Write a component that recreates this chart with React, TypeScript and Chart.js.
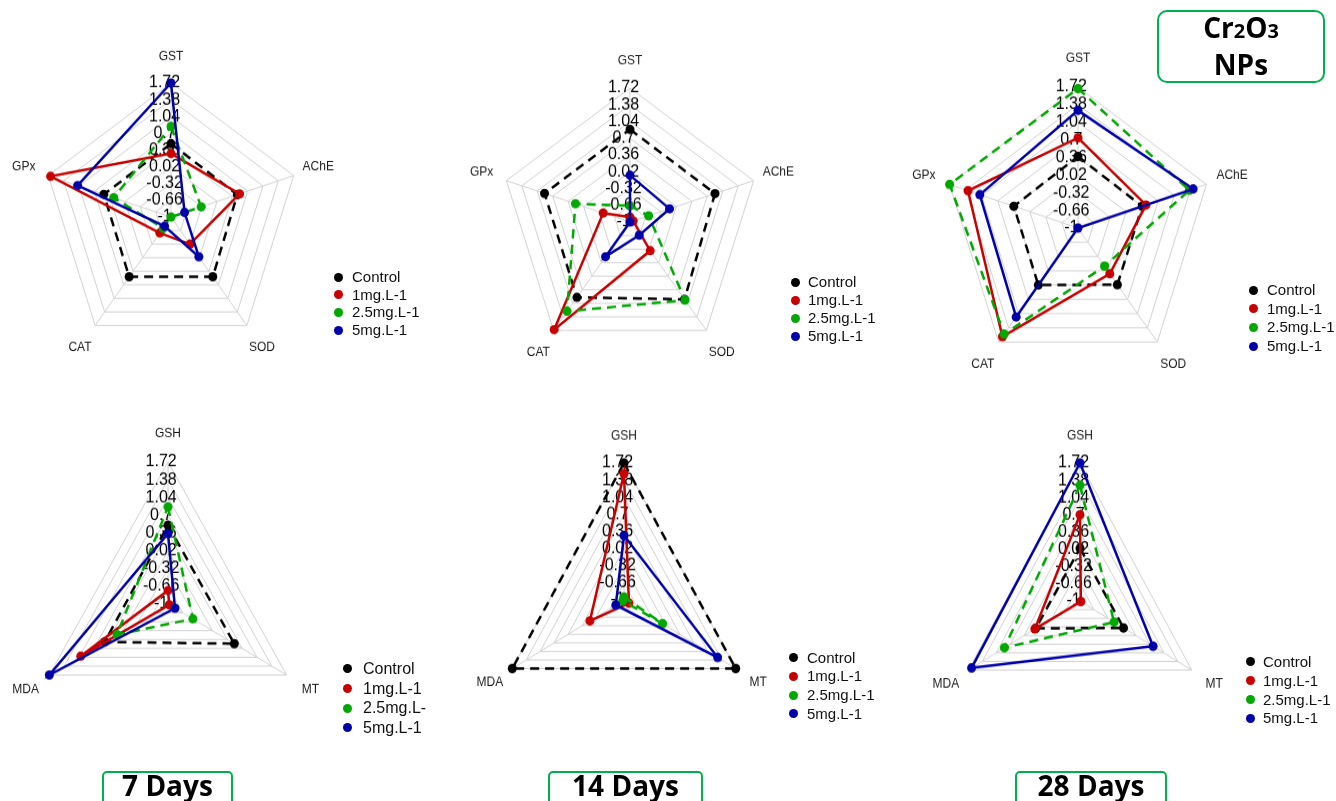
import React, { useEffect, useRef } from "react";
import { Chart, registerables } from "chart.js";

Chart.register(...registerables);

// ---------------- data ----------------
const SERIES_NAMES = ["Control", "1mg.L-1", "2.5mg.L-1", "5mg.L-1"];
const SERIES_NAMES_7D_LOWER = ["Control", "1mg.L-1", "2.5mg.L-", "5mg.L-1"];
const SERIES_COLORS = ["#000000", "#C80000", "#00A800", "#0000AA"];
const SERIES_DASHED = [true, false, true, false];

// clockwise from top (as drawn)
const ENZYME_AXES = ["GST", "AChE", "SOD", "CAT", "GPx"];
const MARKER_AXES = ["GSH", "MT", "MDA"];

const TICK_LABELS = ["-1", "-0.66", "-0.32", "0.02", "0.36", "0.7", "1.04", "1.38", "1.72"];
const SCALE_MIN = -1;
const SCALE_MAX = 1.72;
const SCALE_STEP = 0.34;

// 7 days – GST, AChE, SOD, CAT, GPx
const D7_ENZ_CONTROL = [0.49, 0.47, 0.5, 0.5, 0.49];
const D7_ENZ_1MG = [0.29, 0.52, -0.32, -0.6, 1.67];
const D7_ENZ_25MG = [0.84, -0.33, -1.0, -0.72, 0.27];
const D7_ENZ_5MG = [1.72, -0.7, 0.0, -0.77, 1.07];

// 14 days
const D14_ENZ_CONTROL = [0.88, 0.87, 0.94, 0.89, 0.88];
const D14_ENZ_1MG = [-0.9, -0.93, -0.28, 1.7, -0.41];
const D14_ENZ_25MG = [-0.67, -0.59, 0.96, 1.24, 0.2];
const D14_ENZ_5MG = [-0.05, -0.13, -0.67, -0.13, -1.0];

// 28 days
const D28_ENZ_CONTROL = [0.38, 0.36, 0.35, 0.36, 0.36];
const D28_ENZ_1MG = [0.74, 0.44, 0.09, 1.59, 1.33];
const D28_ENZ_25MG = [1.69, 1.36, -0.09, 1.53, 1.72];
const D28_ENZ_5MG = [1.27, 1.44, -1.0, 1.12, 1.08];

// 7 days – GSH, MT, MDA
const D7_MRK_CONTROL = [0.51, 0.52, 0.45];
const D7_MRK_1MG = [-0.74, -0.97, 1.0];
const D7_MRK_25MG = [0.86, -0.43, 0.17];
const D7_MRK_5MG = [0.35, -0.84, 1.72];

// 14 days
const D14_MRK_CONTROL = [1.72, 1.72, 1.72];
const D14_MRK_1MG = [1.51, -0.88, -0.17];
const D14_MRK_25MG = [-0.94, -0.06, -0.97];
const D14_MRK_5MG = [0.28, 1.28, -0.8];

// 28 days
const D28_MRK_CONTROL = [0.04, 0.06, 0.08];
const D28_MRK_1MG = [0.7, -0.98, 0.1];
const D28_MRK_25MG = [1.28, -0.17, 0.84];
const D28_MRK_5MG = [1.72, 0.78, 1.64];

const DAY_TITLES = ["7 Days", "14 Days", "28 Days"];

// ---------------- layout ----------------
type Lay = {
  cx: number; cy: number; rx: number; ry: number;
  dotX: number; textX: number; rowY: number[]; font: number;
};

const PANELS: { axes: string[]; series: number[][]; legend: string[]; lay: Lay }[] = [
  {
    axes: ENZYME_AXES,
    series: [D7_ENZ_CONTROL, D7_ENZ_1MG, D7_ENZ_25MG, D7_ENZ_5MG],
    legend: SERIES_NAMES,
    lay: { cx: 171, cy: 217, rx: 129, ry: 134, dotX: 338, textX: 352, rowY: [277, 294.5, 312, 330], font: 15 },
  },
  {
    axes: ENZYME_AXES,
    series: [D14_ENZ_CONTROL, D14_ENZ_1MG, D14_ENZ_25MG, D14_ENZ_5MG],
    legend: SERIES_NAMES,
    lay: { cx: 630, cy: 222, rx: 130, ry: 134, dotX: 795, textX: 808, rowY: [282, 300, 318, 336], font: 15 },
  },
  {
    axes: ENZYME_AXES,
    series: [D28_ENZ_CONTROL, D28_ENZ_1MG, D28_ENZ_25MG, D28_ENZ_5MG],
    legend: SERIES_NAMES,
    lay: { cx: 1078, cy: 228, rx: 135, ry: 141, dotX: 1253, textX: 1267, rowY: [290, 308.5, 327, 346], font: 15 },
  },
  {
    axes: MARKER_AXES,
    series: [D7_MRK_CONTROL, D7_MRK_1MG, D7_MRK_25MG, D7_MRK_5MG],
    legend: SERIES_NAMES_7D_LOWER,
    lay: { cx: 168, cy: 604, rx: 137, ry: 142, dotX: 347, textX: 363, rowY: [668.5, 688.5, 708, 727.5], font: 16 },
  },
  {
    axes: MARKER_AXES,
    series: [D14_MRK_CONTROL, D14_MRK_1MG, D14_MRK_25MG, D14_MRK_5MG],
    legend: SERIES_NAMES,
    lay: { cx: 624, cy: 600, rx: 129, ry: 137, dotX: 793, textX: 807, rowY: [657.5, 676, 695, 713.5], font: 15 },
  },
  {
    axes: MARKER_AXES,
    series: [D28_MRK_CONTROL, D28_MRK_1MG, D28_MRK_25MG, D28_MRK_5MG],
    legend: SERIES_NAMES,
    lay: { cx: 1080, cy: 601, rx: 129, ry: 138, dotX: 1250, textX: 1263, rowY: [661.5, 680.5, 699.5, 718], font: 15 },
  },
];

const DAY_BOXES = [
  { left: 102, width: 131 },
  { left: 548, width: 155 },
  { left: 1015, width: 152 },
];

const SANS = "'Liberation Sans', Arial, sans-serif";
const GREEN_BOX = "#00B050";

// fmsb-like labels: axis values slightly left of the vertical axis, variable names at 1.2 R
const fmsbLabels = {
  id: "fmsbLabels",
  beforeDatasetsDraw(chart: any) {
    const scale = chart.scales.r;
    const ctx = chart.ctx;
    const R = scale.drawingArea;
    ctx.save();
    ctx.fillStyle = "#000";
    ctx.textAlign = "center";
    ctx.textBaseline = "middle";
    ctx.font = `16px ${SANS}`;
    TICK_LABELS.forEach((t, i) => {
      const v = SCALE_MIN + i * SCALE_STEP;
      const d = scale.getDistanceFromCenterForValue(v);
      ctx.fillText(t, scale.xCenter - 0.05 * R, scale.yCenter - d);
    });
    ctx.fillStyle = "#1a1a1a";
    ctx.font = `12px ${SANS}`;
    (chart.data.labels as string[]).forEach((lab, i) => {
      const p = scale.getPointPosition(i, 1.2 * R);
      ctx.fillText(lab, p.x, p.y);
    });
    ctx.restore();
  },
};

const MARGIN = 70;

function RadarPanel({ axes, series, lay }: { axes: string[]; series: number[][]; lay: Lay }) {
  const ref = useRef<HTMLCanvasElement>(null);
  const size = 2 * (lay.rx + MARGIN);
  useEffect(() => {
    const chart = new Chart(ref.current as HTMLCanvasElement, {
      type: "radar",
      data: {
        labels: axes,
        datasets: series.map((vals, i) => ({
          label: SERIES_NAMES[i],
          data: vals,
          borderColor: SERIES_COLORS[i],
          backgroundColor: SERIES_COLORS[i],
          pointBackgroundColor: SERIES_COLORS[i],
          pointBorderColor: SERIES_COLORS[i],
          pointBorderWidth: 0,
          pointRadius: 4.5,
          borderWidth: 2.5,
          borderDash: SERIES_DASHED[i] ? [9, 6] : [],
          fill: false,
          tension: 0,
          clip: false,
          order: series.length - i,
        })) as any,
      },
      options: {
        responsive: false,
        animation: false,
        layout: { padding: MARGIN },
        plugins: {
          legend: { display: false },
          tooltip: { enabled: false },
          title: { display: false },
        },
        scales: {
          r: {
            min: SCALE_MIN,
            max: SCALE_MAX,
            startAngle: 0,
            ticks: { display: false, stepSize: SCALE_STEP },
            grid: { color: "#d2d2d2", lineWidth: 1 },
            angleLines: { color: "#d2d2d2", lineWidth: 1 },
            pointLabels: { display: false },
          },
        },
      } as any,
      plugins: [fmsbLabels],
    });
    return () => chart.destroy();
  }, []);
  return (
    <canvas
      ref={ref}
      width={size}
      height={size}
      style={{
        position: "absolute",
        left: Math.round(lay.cx - lay.rx - MARGIN),
        top: Math.round(lay.cy - lay.rx - MARGIN),
        width: size,
        height: size,
        transform: `scaleY(${lay.ry / lay.rx})`,
        transformOrigin: "50% 50%",
      }}
    />
  );
}

function Legend({ names, lay }: { names: string[]; lay: Lay }) {
  return (
    <>
      {names.map((n, i) => (
        <React.Fragment key={i}>
          <div
            style={{
              position: "absolute",
              left: lay.dotX - 4.5,
              top: lay.rowY[i] - 4.5,
              width: 9,
              height: 9,
              borderRadius: "50%",
              background: SERIES_COLORS[i],
            }}
          />
          <div
            style={{
              position: "absolute",
              left: lay.textX,
              top: lay.rowY[i] - 10,
              height: 20,
              lineHeight: "20px",
              fontFamily: SANS,
              fontSize: lay.font,
              color: "#111",
              whiteSpace: "nowrap",
            }}
          >
            {n}
          </div>
        </React.Fragment>
      ))}
    </>
  );
}

export default function App() {
  return (
    <div
      style={{
        position: "fixed",
        left: 0,
        top: 0,
        width: 1336,
        height: 801,
        overflow: "hidden",
        background: "#fff",
      }}
    >
      {PANELS.map((p, i) => (
        <RadarPanel key={"c" + i} axes={p.axes} series={p.series} lay={p.lay} />
      ))}
      {PANELS.map((p, i) => (
        <Legend key={"l" + i} names={p.legend} lay={p.lay} />
      ))}
      {DAY_TITLES.map((t, i) => (
        <div
          key={"d" + i}
          style={{
            position: "absolute",
            left: DAY_BOXES[i].left,
            top: 771,
            width: DAY_BOXES[i].width,
            height: 44,
            boxSizing: "border-box",
            border: `2px solid ${GREEN_BOX}`,
            borderRadius: 5,
            textAlign: "center",
            fontFamily: "'Open Sans', sans-serif",
            fontWeight: 700,
            fontSize: 28,
            lineHeight: "24px",
            color: "#000",
          }}
        >
          {t}
        </div>
      ))}
      <div
        style={{
          position: "absolute",
          left: 1157,
          top: 10,
          width: 168,
          height: 73,
          boxSizing: "border-box",
          border: `2px solid ${GREEN_BOX}`,
          borderRadius: 10,
        }}
      />
      <div
        style={{
          position: "absolute",
          left: 1157,
          top: 13,
          width: 168,
          textAlign: "center",
          fontFamily: "'Open Sans', sans-serif",
          fontWeight: 700,
          fontSize: 28,
          lineHeight: "28px",
          color: "#000",
        }}
      >
        Cr<span style={{ fontSize: 20 }}>2</span>O<span style={{ fontSize: 20 }}>3</span>
      </div>
      <div
        style={{
          position: "absolute",
          left: 1157,
          top: 50,
          width: 168,
          textAlign: "center",
          fontFamily: "'Open Sans', sans-serif",
          fontWeight: 700,
          fontSize: 28,
          lineHeight: "28px",
          color: "#000",
        }}
      >
        NPs
      </div>
    </div>
  );
}
